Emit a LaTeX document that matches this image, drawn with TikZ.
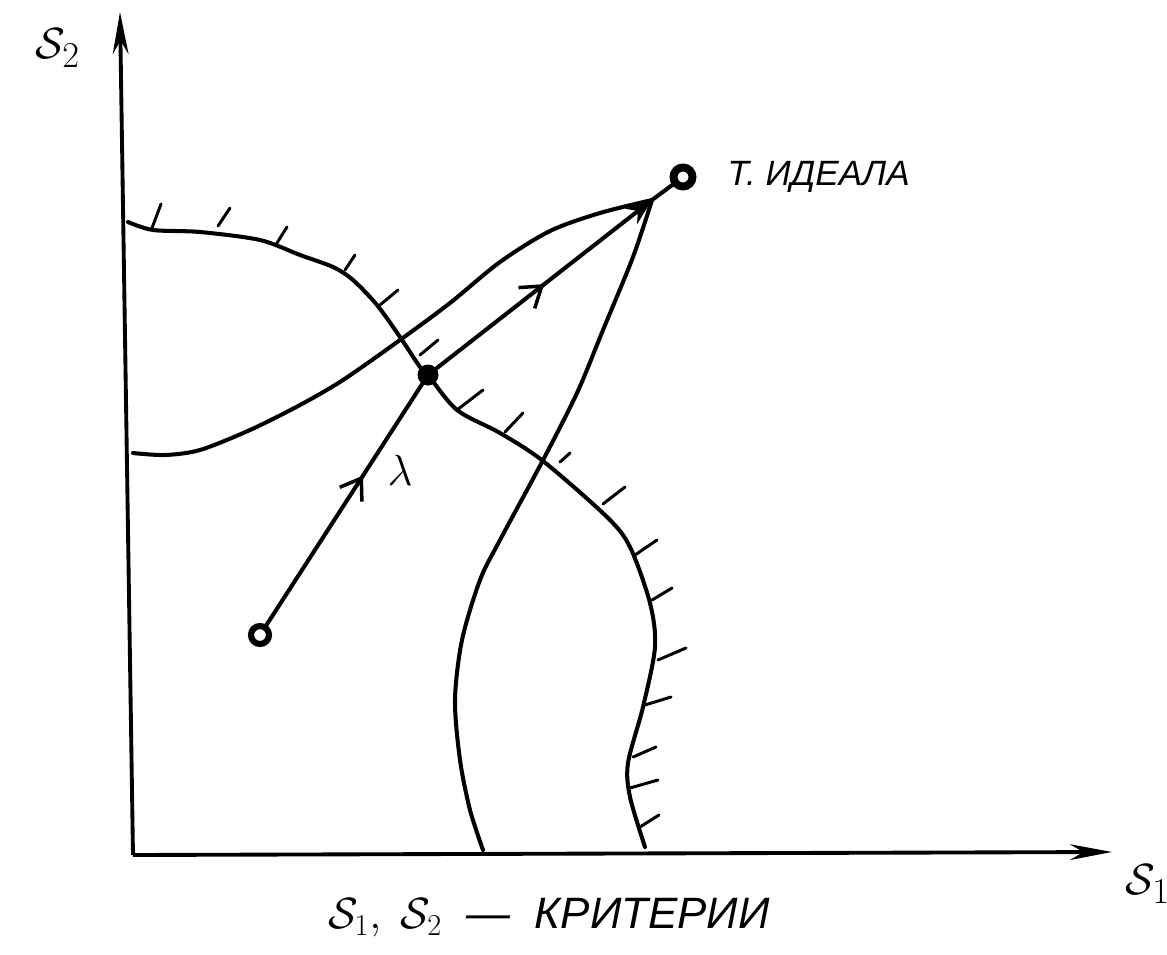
\documentclass[tikz,border=0pt]{standalone}
\usepackage{fontspec}
\setmainfont{Liberation Sans}
\usepackage{tikz}
\usetikzlibrary{arrows.meta, positioning, decorations.markings, calc}

\begin{document}
\begin{tikzpicture}[x=0.02cm, y=-0.02cm,
    every node/.style={font=\fontsize{20}{24}\selectfont\itshape},
    curve/.style={line width=2.3pt, line cap=round, line join=round},
    hatch/.style={line width=1.7pt, line cap=round},
    axis/.style={line width=2.2pt, -{Stealth[length=24pt, width=9pt]}},
    dot/.style={circle, fill=black, inner sep=0pt, minimum size=0.42cm},
    ring/.style={circle, draw=black, line width=4.5pt, fill=white, inner sep=0pt, minimum size=0.38cm},
    midarr/.style={postaction=decorate, decoration={markings,
        mark=at position #1 with {\arrow{Straight Barb[length=11pt, width=15pt, line width=2pt]}}}},
    lab/.style={font=\fontsize{30}{34}\selectfont},
  ]
  \useasboundingbox (0,0) rectangle (1167,954);

  % axes
  \coordinate (O) at (133,855);
  \coordinate (ytip) at (120,12);
  \coordinate (xtip) at (1112,852);
  \draw[axis] (O) -- (ytip);
  \draw[axis] (O) -- (xtip);
  \node[lab] (s2) at (58,48) {$\mathcal{S}_2$};
  \node[lab] (s1) at (1148,884) {$\mathcal{S}_1$};

  % points
  \node[ring] (ideal) at (683,177) {};
  \node[anchor=west, right=0.5cm of ideal] (ideallab) {Т. ИДЕАЛА};
  \node[ring, line width=3.5pt, minimum size=0.36cm] (start) at (260,635) {};
  \node[dot] (cross) at (428,375) {};
  \coordinate (meet) at (652,200);

  % boundary with hatching
  \draw[curve] plot[smooth, tension=0.5] coordinates {
    (128,222) (153,230) (200,232) (260,240) (300,255) (333,267) (353,280)
    (377,305) (400,337) (420,367) (428,375) (457,410) (500,433) (543,461)
    (607,517) (630,547) (650,603) (655,647) (643,707) (628,763) (630,797) (645,847)};
  \foreach \a/\b/\c/\d in {152/228/161/204, 218/226/230/208, 277/243/287/227,
      345/270/355/255, 380/305/398/290, 420/355/438/340, 457/410/483/390,
      505/432/523/413, 560/462/570/453, 603/504/625/487, 635/555/657/540,
      652/600/672/588, 658/660/686/648, 645/705/671/697, 633/757/656/747,
      630/788/658/780, 640/827/659/815}
    \draw[hatch] (\a,\b) -- (\c,\d);

  % left curve to the ideal
  \draw[curve] plot[smooth, tension=0.5] coordinates {
    (133,453) (165,455) (200,450) (250,430) (300,405) (343,380) (400,340)
    (450,303) (500,262) (550,231) (600,213) (652,200)};

  % right curve to the ideal
  \draw[curve] plot[smooth, tension=0.5] coordinates {
    (483,850) (470,810) (460,760) (455,700) (462,640) (480,580) (500,540)
    (542,462) (577,393) (603,330) (633,257) (652,200)};

  % path lambda
  \draw[curve, midarr=0.62] (start) -- (cross);
  \draw[curve, midarr=0.5, -{Stealth[length=15pt, width=11pt]}] (cross) -- (meet);
  \draw[curve] (meet) -- (ideal);
  \node[lab] (lam) at (400,470) {$\lambda$};

  \node[anchor=west, font=\fontsize{25}{29}\selectfont\itshape] (cap) at (322,918)
    {$\mathcal{S}_1,\ \mathcal{S}_2$ \ — \ КРИТЕРИИ};
\end{tikzpicture}
\end{document}
